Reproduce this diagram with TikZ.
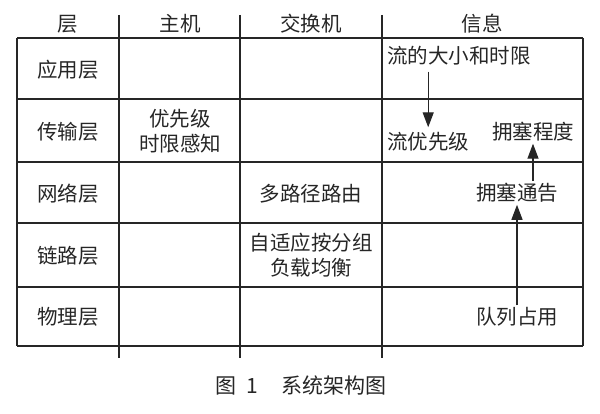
\documentclass[tikz,border=0pt]{standalone}
\usepackage{fontspec}
\setmainfont{Liberation Serif}
\newfontfamily\cjk{Noto Sans CJK SC}
\usetikzlibrary{arrows.meta}
\begin{document}
\begin{tikzpicture}[x=1pt,y=-1pt,
  tline/.style={line width=1.5pt,color=black!85},
  txt/.style={font=\cjk\fontsize{20.5}{25}\selectfont,text=black!85,inner sep=2pt,align=center},
  arr/.style={line width=1.3pt,color=black!85,-{Triangle[width=11pt,length=15pt]}}]
\useasboundingbox (0,0) rectangle (600,414);
% table grid
\foreach \y in {38,99,162,223,287,346} \draw[tline] (17,\y) -- (583,\y);
\draw[tline] (17,38) -- (17,346);
\draw[tline] (583,38) -- (583,346);
\foreach \x in {119,240,382} \draw[tline] (\x,15) -- (\x,358);
% header
\node[txt] (hl) at (68,24) {层};
\node[txt] (hh) at (180,24) {主机};
\node[txt] (hs) at (311,24) {交换机};
\node[txt] (hi) at (482,24) {信息};
% layer names
\node[txt] (l1) at (68,70) {应用层};
\node[txt] (l2) at (68,132) {传输层};
\node[txt] (l3) at (68,194) {网络层};
\node[txt] (l4) at (68,256) {链路层};
\node[txt] (l5) at (68,317) {物理层};
% host
\node[txt] (h2) at (180,131) {优先级\\时限感知};
% switch
\node[txt] (s3) at (311,194) {多路径路由};
\node[txt] (s4) at (311,255) {自适应按分组\\负载均衡};
% info
\node[txt,anchor=west] (size) at (385,56) {流的大小和时限};
\node[txt,anchor=west] (prio) at (385,142) {流优先级};
\node[txt] (degree) at (533,132) {拥塞程度};
\node[txt] (notice) at (517,193) {拥塞通告};
\node[txt] (queue) at (517,317) {队列占用};
% arrows
\draw[arr,shorten <=4pt,shorten >=3pt] (prio.north |- size.south) -- (prio.north);
\draw[arr] (degree.south |- notice.north) -- (degree.south);
\draw[arr] (queue.north) -- (notice.south);
% caption
\node[txt,font=\cjk\fontsize{21}{25}\selectfont] (cap) at (301,385) {图\hspace{0.45em}1\hspace{1.1em}系统架构图};
\end{tikzpicture}
\end{document}
